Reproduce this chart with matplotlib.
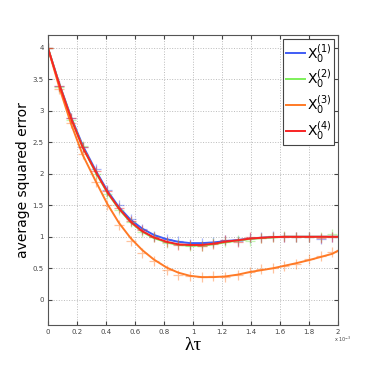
import matplotlib
matplotlib.use("Agg")
import matplotlib.pyplot as plt

# valores (x em unidades de 1e-3)
x_pts = [0, 0.08, 0.16, 0.24, 0.33, 0.41, 0.49, 0.57, 0.65, 0.73, 0.82, 0.90, 0.98,
         1.06, 1.14, 1.22, 1.31, 1.39, 1.47, 1.55, 1.63, 1.71, 1.80, 1.88, 1.96]
x_line = x_pts + [2.0]

linha_1 = [4.0, 3.42, 2.90, 2.45, 2.05, 1.73, 1.47, 1.27, 1.13, 1.03, 0.96, 0.92, 0.90,
           0.90, 0.91, 0.93, 0.95, 0.97, 0.985, 0.995, 1.0, 1.0, 1.0, 1.0, 1.0, 1.0]
linha_2 = [4.0, 3.41, 2.88, 2.42, 2.02, 1.70, 1.44, 1.23, 1.08, 0.98, 0.91, 0.87, 0.86,
           0.86, 0.88, 0.91, 0.94, 0.965, 0.98, 0.99, 1.0, 1.0, 1.0, 1.0, 1.0, 1.0]
linha_3 = [4.0, 3.36, 2.79, 2.30, 1.88, 1.52, 1.22, 0.98, 0.79, 0.64, 0.51, 0.43, 0.38,
           0.36, 0.36, 0.37, 0.40, 0.44, 0.47, 0.50, 0.54, 0.58, 0.63, 0.68, 0.73, 0.78]
linha_4 = [4.0, 3.41, 2.88, 2.42, 2.03, 1.71, 1.45, 1.24, 1.09, 0.99, 0.92, 0.88, 0.87,
           0.87, 0.89, 0.92, 0.945, 0.97, 0.985, 0.995, 1.0, 1.0, 1.0, 1.0, 1.0, 1.0]

pts_1 = [4.0, 3.40, 2.88, 2.43, 2.08, 1.74, 1.50, 1.28, 1.13, 1.02, 0.97, 0.93, 0.89,
         0.90, 0.92, 0.95, 0.94, 0.98, 0.99, 1.01, 1.0, 0.99, 1.0, 0.96, 1.0]
pts_2 = [4.0, 3.38, 2.86, 2.44, 2.00, 1.68, 1.43, 1.24, 1.07, 0.99, 0.90, 0.88, 0.85,
         0.86, 0.90, 0.92, 0.95, 0.93, 0.98, 1.0, 1.01, 1.0, 1.0, 1.0, 1.05]
pts_3 = [4.0, 3.35, 2.80, 2.31, 1.87, 1.50, 1.18, 0.93, 0.75, 0.62, 0.48, 0.40, 0.38,
         0.36, 0.37, 0.36, 0.39, 0.44, 0.49, 0.50, 0.54, 0.57, 0.65, 0.70, 0.76]
pts_4 = [4.0, 3.40, 2.88, 2.42, 2.05, 1.73, 1.46, 1.25, 1.10, 0.99, 0.92, 0.87, 0.87,
         0.86, 0.89, 0.95, 0.92, 0.99, 0.98, 0.99, 1.0, 1.0, 1.0, 0.98, 1.0]

labels = [r'$\mathrm{X}_0^{(1)}$', r'$\mathrm{X}_0^{(2)}$', r'$\mathrm{X}_0^{(3)}$', r'$\mathrm{X}_0^{(4)}$']
cores = ['#3f5cf5', '#7ef05a', '#ff7a26', '#f82424']

fig = plt.figure(figsize=(3.74, 3.74), dpi=100)
ax = fig.add_axes([0.128, 0.131, 0.776, 0.775])

for linha, pts, cor, lab in zip([linha_1, linha_2, linha_3, linha_4],
                                [pts_1, pts_2, pts_3, pts_4], cores, labels):
    ax.plot(x_pts, pts, linestyle='none', marker='+', markersize=7, color=cor, alpha=0.45, mew=0.9)
    ax.plot(x_line, linha, color=cor, linewidth=1.4, label=lab)

ax.set_xlim(0, 2)
ax.set_ylim(-0.4, 4.2)
ax.set_xticks([0, 0.2, 0.4, 0.6, 0.8, 1, 1.2, 1.4, 1.6, 1.8, 2])
ax.set_xticklabels(['0', '0.2', '0.4', '0.6', '0.8', '1', '1.2', '1.4', '1.6', '1.8', '2'])
ax.set_yticks([0, 0.5, 1, 1.5, 2, 2.5, 3, 3.5, 4])
ax.set_yticklabels(['0', '0.5', '1', '1.5', '2', '2.5', '3', '3.5', '4'])
ax.tick_params(direction='in', length=3, labelsize=5, colors='#444444', top=True, right=True, pad=3)
ax.grid(True, linestyle=':', color='#bbbbbb', linewidth=0.7)
for s in ax.spines.values():
    s.set_color('#555555')
    s.set_linewidth(0.8)

ax.set_xlabel('λτ', fontsize=14, labelpad=1, family='Liberation Serif')
ax.set_ylabel('average squared error', fontsize=10, labelpad=2)
fig.text(0.893, 0.085, r'x 10$^{-3}$', fontsize=3.5, color='#444444')

leg = ax.legend(loc='upper right', fontsize=10, handlelength=1.4, handletextpad=0.1,
                borderpad=0.2, labelspacing=0.25, fancybox=False, framealpha=1,
                borderaxespad=0.3)
leg.get_frame().set_edgecolor('#444444')
leg.get_frame().set_linewidth(0.8)

fig.savefig('out.png', dpi=100)
